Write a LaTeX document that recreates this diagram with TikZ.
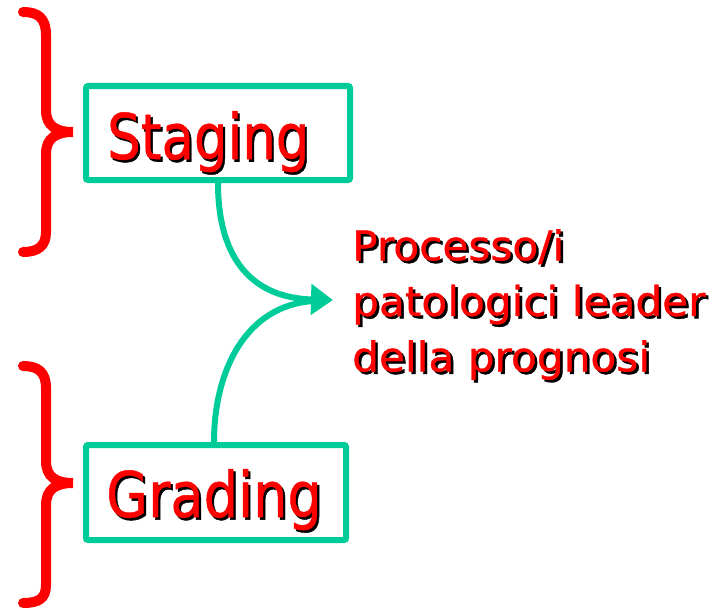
\documentclass[tikz,border=0pt]{standalone}
\usepackage{fontspec}
\setmainfont{DejaVu Sans}
\newfontfamily\thick{DejaVu Sans}[FakeBold=0.8]
\usetikzlibrary{arrows.meta}
\definecolor{teal2}{RGB}{0,204,153}
\newcommand\shd[2]{\scalebox{#1}[1]{\makebox[0pt][l]{\hspace{2.5pt}\raisebox{-2.5pt}{\color{black}#2}}\textcolor{red}{#2}}}
\begin{document}
\begin{tikzpicture}[x=1pt,y=-1pt,
  boxst/.style={draw=teal2,line width=6pt,rounded corners=2pt,inner sep=0pt},
  bracest/.style={draw=red,line width=10pt,line cap=round},
  conn/.style={draw=teal2,line width=6pt},
  lbl/.style={inner sep=0pt,anchor=base west}]
\useasboundingbox (0,0) rectangle (723,610);
% braces
\draw[bracest] (23,12) .. controls (38,12) and (46,18) .. (46,35) -- (46,110)
  .. controls (46,126) and (56,132) .. (73,132)
  .. controls (56,132) and (46,138) .. (46,154) -- (46,232)
  .. controls (46,246) and (38,252) .. (23,252);
\draw[bracest] (23,366) .. controls (38,366) and (46,372) .. (46,388) -- (46,461)
  .. controls (46,477) and (56,483) .. (73,483)
  .. controls (56,483) and (46,489) .. (46,505) -- (46,585)
  .. controls (46,599) and (38,603) .. (23,603);
% boxes
\node[boxst,minimum width=264pt,minimum height=94pt] (stagingbox) at (218,133) {};
\node[boxst,minimum width=260pt,minimum height=95pt] (gradingbox) at (216,492.5) {};
\node[lbl,font=\fontsize{63}{70}\thick] (staging) at (107,159) {\shd{0.84}{Staging}};
\node[lbl,font=\fontsize{63}{70}\thick] (grading) at (106,517) {\shd{0.86}{Grading}};
\node[lbl,align=left,anchor=north west,font=\fontsize{41}{55.5}\thick] (proc) at (352,229)
  {\shd{1.03}{Processo/i}\\\shd{1.03}{patologici leader}\\\shd{1.03}{della prognosi}};
% connectors
\coordinate (tip) at (333,300);
\coordinate (join) at (314,301);
\draw[conn,-{Triangle[length=22pt,width=30pt]}] (stagingbox.south -| 218,0)
  .. controls (218,262) and (255,298) .. (tip);
\draw[conn] (gradingbox.north -| 214,0) .. controls (214,372) and (245,305) .. (join);
\end{tikzpicture}
\end{document}
